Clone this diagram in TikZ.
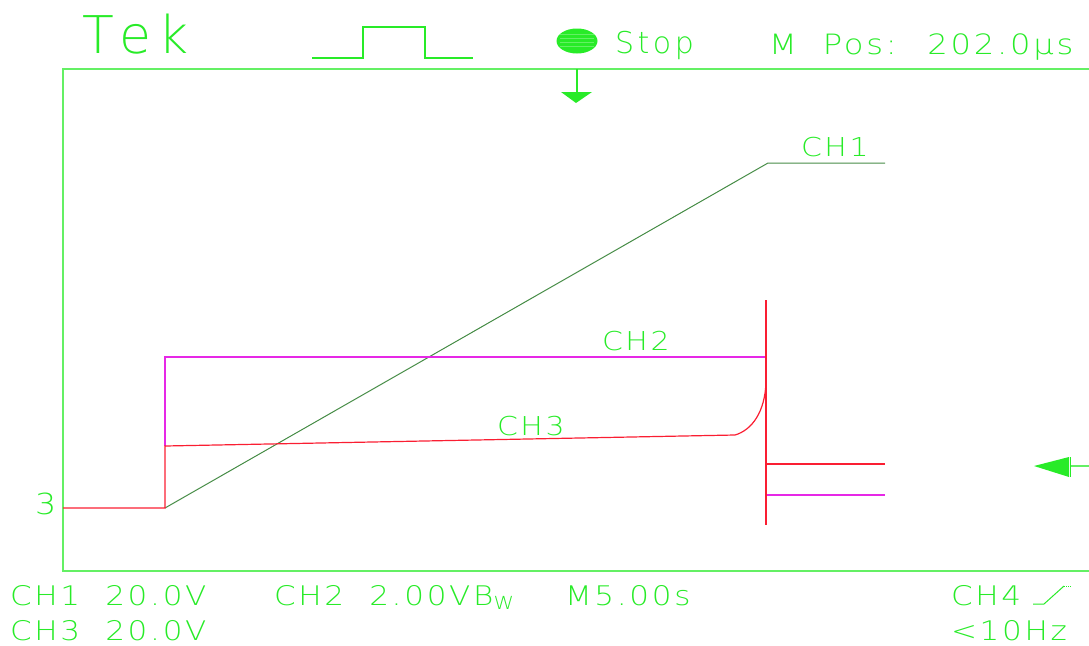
\documentclass[tikz,border=0pt]{standalone}
\usepackage{fontspec}
\newfontfamily\tekfont{DejaVu Sans ExtraLight}[FakeStretch=1.15,LetterSpace=10,WordSpace=2.0]
\newfontfamily\logofont{DejaVu Sans ExtraLight}[Kerning=Off,LetterSpace=12]
\definecolor{scrgreen}{RGB}{40,235,40}
\definecolor{framegreen}{RGB}{100,240,100}
\definecolor{chonegreen}{RGB}{70,140,70}
\definecolor{chtwomag}{RGB}{230,40,230}
\definecolor{chthreered}{RGB}{250,30,50}
\tikzset{
  txt/.style={anchor=base west,inner sep=0pt,outer sep=0pt,text=scrgreen},
  frameline/.style={draw=framegreen,line width=1.6pt},
  chone/.style={draw=chonegreen,line width=1pt},
  chtwo/.style={draw=chtwomag,line width=1.2pt},
  chthree/.style={draw=chthreered,line width=1.2pt},
}
\begin{document}
\begin{tikzpicture}[x=1pt,y=-1pt]
\useasboundingbox (0,0) rectangle (1089,645);

% header
\node[txt,font=\logofont\fontsize{52}{52}\selectfont] (tek) at (82,53) {Tek};
\draw[scrgreen,line width=1.2pt] (312,58) -- (363,58) -- (363,27) -- (425,27) -- (425,58) -- (473,58);
\fill[scrgreen] (577,41) ellipse (20.5 and 12.5);
\foreach \yy in {34,38,42,46} \draw[framegreen,line width=0.5pt] (560,\yy) -- (594,\yy);
\node[txt,font=\logofont\fontsize{30}{30}\selectfont] (stop) at (615,53) {Stop};
\node[txt,font=\tekfont\fontsize{28}{28}\selectfont] (mpos) at (769,54) {M Pos: 202.0µs};

% graticule frame
\coordinate (ftr) at (1089,69);
\coordinate (ftl) at (63,69);
\coordinate (fbl) at (63,571);
\coordinate (fbr) at (1089,571);
\draw[frameline] (ftr) -- (ftl) -- (fbl) -- (fbr);

% trigger markers
\coordinate (trig) at (577,69);
\coordinate (trigtip) at (577,92);
\draw[scrgreen,line width=1.2pt] (trig) -- (trigtip);
\fill[scrgreen] (561,92) -- (592,92) -- (576,103) -- cycle;
\coordinate (lvl) at (1089,466);
\coordinate (lvlbar) at (1070,466);
\draw[framegreen,line width=1.2pt] (lvl) -- (lvlbar);
\draw[scrgreen,line width=1pt] (1070,457) -- (1070,477);
\fill[scrgreen] (1034,466) -- (1069,457) -- (1069,477) -- cycle;

% trace points
\coordinate (start) at (63,508);
\coordinate (step) at (165,508);
\coordinate (ramptop) at (768,163);
\coordinate (oneend) at (885,163);
\coordinate (twotop) at (165,357);
\coordinate (twoend) at (766,357);
\coordinate (threetop) at (165,446);
\coordinate (threeknee) at (735,435);
\coordinate (threepeak) at (766,382);
\coordinate (cuthi) at (766,300);
\coordinate (cutlo) at (766,525);
\coordinate (threelow) at (766,464);
\coordinate (threelowend) at (885,464);
\coordinate (twolow) at (766,495);
\coordinate (twolowend) at (885,495);

% CH1
\draw[chone] (step) -- (ramptop) -- (oneend);
% CH2
\draw[chtwo] (threetop) -- (twotop) -- (twoend);
\draw[chtwo] (twolow) -- (twolowend);
% CH3
\draw[chthree] (start) -- (step) -- (threetop) -- (threeknee)
  .. controls (752,430) and (765,412) .. (threepeak);
\draw[chthree,line width=1.6pt] (cuthi) -- (cutlo);
\draw[chthree] (threelow) -- (threelowend);

% trace labels
\node[txt,font=\tekfont\fontsize{26}{26}\selectfont] (lone) at (801,156) {CH1};
\node[txt,font=\tekfont\fontsize{26}{26}\selectfont] (ltwo) at (602,350) {CH2};
\node[txt,font=\tekfont\fontsize{26}{26}\selectfont] (lthree) at (497,435) {CH3};
\node[txt,font=\tekfont\fontsize{29}{29}\selectfont] (gnd) at (35,514) {3};

% footer readouts
\node[txt,font=\tekfont\fontsize{27}{27}\selectfont] (sone) at (10,605) {CH1 20.0V};
\node[txt,font=\tekfont\fontsize{27}{27}\selectfont] (stwo) at (274,605) {CH2 2.00VB{\fontsize{18}{18}\selectfont\raisebox{-4pt}{W}}};
\node[txt,font=\tekfont\fontsize{27}{27}\selectfont] (time) at (565,605) {M5.00s};
\node[txt,font=\tekfont\fontsize{27}{27}\selectfont] (sthree) at (10,640) {CH3 20.0V};
\node[txt,font=\tekfont\fontsize{27}{27}\selectfont] (chfour) at (951,605) {CH4};
\node[txt,font=\tekfont\fontsize{27}{27}\selectfont] (freq) at (951,640) {<10Hz};
\coordinate (slopea) at (1033,604);
\coordinate (slopeb) at (1044,604);
\coordinate (slopec) at (1064,586);
\coordinate (sloped) at (1072,586);
\draw[scrgreen,line width=1pt] (slopea) -- (slopeb) -- (slopec);
\draw[scrgreen,line width=1pt,densely dotted] (slopec) -- (sloped);
\end{tikzpicture}
\end{document}
